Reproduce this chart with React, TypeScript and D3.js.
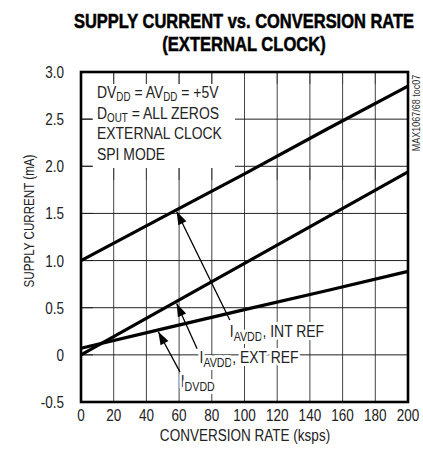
import React from "react";
import * as d3 from "d3";

// conversion rate (ksps) and supply currents (mA)
const rates = [0, 50, 100, 150, 200];
const iavddIntRef = [1.0, 1.46, 1.92, 2.39, 2.85];
const iavddExtRef = [0.0, 0.485, 0.97, 1.455, 1.94];
const idvdd = [0.07, 0.275, 0.48, 0.68, 0.885];

const xTicks = [0, 20, 40, 60, 80, 100, 120, 140, 160, 180, 200];
const yTicks = [-0.5, 0, 0.5, 1.0, 1.5, 2.0, 2.5, 3.0];
const yTickLabels = ["-0.5", "0", "0.5", "1.0", "1.5", "2.0", "2.5", "3.0"];

const FONT = "'Liberation Sans', Arial, sans-serif";
const NARROW = 0.82; // squeeze Liberation Sans into an Arial Narrow look

// narrow text: drawn at (x, y), squeezed horizontally
function N(props: any) {
  const { x, y, rotate, sx = NARROW, children, ...rest } = props;
  const tr = `translate(${x},${y})${rotate ? ` rotate(${rotate})` : ""} scale(${sx},1)`;
  return (
    <text transform={tr} {...rest}>
      {children}
    </text>
  );
}

export default function App() {
  const width = 423;
  const height = 460;
  const x = d3.scaleLinear().domain([0, 200]).range([81, 408]);
  const y = d3.scaleLinear().domain([-0.5, 3]).range([402, 72]);

  const mkLine = (vals: number[]) =>
    d3
      .line<number>()
      .x((_, i) => x(rates[i]))
      .y((v) => y(v))(vals) as string;

  // arrows: tail -> tip, in data units
  const arrows = [
    { from: [91, 0.37], to: [58.5, 1.52] },
    { from: [71, 0.065], to: [58.5, 0.545] },
    { from: [60.5, -0.18], to: [47.3, 0.245] },
  ];

  const head = (fx: number, fy: number, tx: number, ty: number) => {
    const a = Math.atan2(ty - fy, tx - fx);
    const len = 13;
    const w = 4.5;
    const bx = tx - len * Math.cos(a);
    const by = ty - len * Math.sin(a);
    const px = -Math.sin(a) * w;
    const py = Math.cos(a) * w;
    return `M${tx},${ty}L${bx + px},${by + py}L${bx - px},${by - py}Z`;
  };

  const halo = { stroke: "#fff", strokeWidth: 6, paintOrder: "stroke", strokeLinejoin: "round" };

  return (
    <svg width={width} height={height} style={{ position: "absolute", left: 0, top: 0, background: "#fff" }} fontFamily={FONT}>
      <rect width={width} height={height} fill="#fff" />
      {/* title */}
      <g fontWeight="bold" fontSize={19.5} stroke="#000" strokeWidth={0.5} textAnchor="middle">
        <N x={244} y={28} sx={0.845}>
          SUPPLY CURRENT vs. CONVERSION RATE
        </N>
        <N x={244} y={51} sx={0.85}>
          (EXTERNAL CLOCK)
        </N>
      </g>

      {/* grid */}
      {xTicks.map((t) => (
        <line key={"gx" + t} x1={x(t)} x2={x(t)} y1={y(3)} y2={y(-0.5)} stroke="#444" strokeWidth={1} />
      ))}
      {yTicks.map((t) => (
        <line key={"gy" + t} x1={x(0)} x2={x(200)} y1={y(t)} y2={y(t)} stroke="#222" strokeWidth={1} />
      ))}

      {/* condition box */}
      <rect x={92} y={84} width={143} height={84} fill="#fff" />
      {xTicks.map((t) => (
        <line key={"tt" + t} x1={x(t)} x2={x(t)} y1={y(3)} y2={y(3) + 12} stroke="#444" strokeWidth={1} />
      ))}
      {xTicks.map((t) => (
        <line key={"tb" + t} x1={x(t)} x2={x(t)} y1={168} y2={180} stroke="#444" strokeWidth={1} />
      ))}
      {yTicks.map((t) => (
        <line key={"tl" + t} x1={x(0)} x2={x(0) + 12} y1={y(t)} y2={y(t)} stroke="#222" strokeWidth={1} />
      ))}
      <g fontSize={17} fill="#222">
        <N x={97} y={98}>
          DV<tspan fontSize={12} dy={3}>DD</tspan>
          <tspan dy={-3}> = AV</tspan>
          <tspan fontSize={12} dy={3}>DD</tspan>
          <tspan dy={-3}> = +5V</tspan>
        </N>
        <N x={97} y={118.5}>
          D<tspan fontSize={12} dy={3}>OUT</tspan>
          <tspan dy={-3}> = ALL ZEROS</tspan>
        </N>
        <N x={97} y={139}>EXTERNAL CLOCK</N>
        <N x={97} y={159.5}>SPI MODE</N>
      </g>

      {/* data */}
      {[iavddIntRef, iavddExtRef, idvdd].map((s, i) => (
        <path key={"s" + i} d={mkLine(s)} fill="none" stroke="#000" strokeWidth={3.2} />
      ))}

      {/* arrows */}
      {arrows.map((a, i) => {
        const fx = x(a.from[0]);
        const fy = y(a.from[1]);
        const tx = x(a.to[0]);
        const ty = y(a.to[1]);
        return (
          <g key={"a" + i}>
            <line x1={fx} y1={fy} x2={tx} y2={ty} stroke="#000" strokeWidth={1.3} />
            <path d={head(fx, fy, tx, ty)} fill="#000" />
          </g>
        );
      })}

      {/* labels */}
      <g fontSize={17} fill="#222">
        <N x={x(91)} y={y(0.19)} {...halo}>
          I<tspan fontSize={13} dy={4}>AVDD</tspan>
          <tspan dy={-4}>, INT REF</tspan>
        </N>
        <N x={x(72.5)} y={y(-0.09)} {...halo}>
          I<tspan fontSize={13} dy={4}>AVDD</tspan>
          <tspan dy={-4}>, EXT REF</tspan>
        </N>
        <N x={x(61)} y={y(-0.34)} {...halo}>
          I<tspan fontSize={13} dy={4}>DVDD</tspan>
        </N>
      </g>

      {/* frame */}
      <rect x={x(0)} y={y(3)} width={x(200) - x(0)} height={y(-0.5) - y(3)} fill="none" stroke="#000" strokeWidth={2.6} />

      {/* axes labels */}
      <g fontSize={16.5} fill="#222">
        {xTicks.map((t) => (
          <N key={"lx" + t} x={x(t)} y={421} textAnchor="middle">
            {t}
          </N>
        ))}
        {yTicks.map((t, i) => (
          <N key={"ly" + t} x={64} y={y(t) + 6} textAnchor="end">
            {yTickLabels[i]}
          </N>
        ))}
        <N x={245} y={441} textAnchor="middle">
          CONVERSION RATE (ksps)
        </N>
        <N x={34} y={221} rotate={-90} textAnchor="middle" fontSize={15.5} sx={0.75}>
          SUPPLY CURRENT (mA)
        </N>
      </g>
      <N x={420} y={113} rotate={-90} textAnchor="middle" fontSize={11} fill="#333">
        MAX1067/68 toc07
      </N>
    </svg>
  );
}
